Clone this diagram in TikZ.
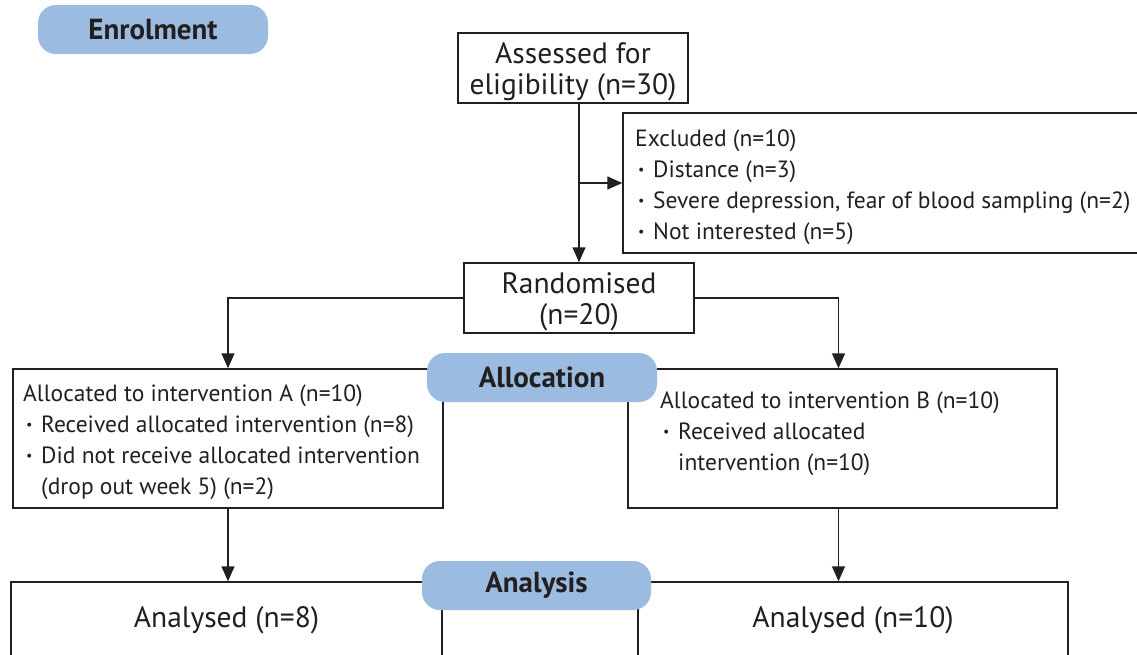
\documentclass[tikz,border=0pt]{standalone}
\usepackage{fontspec}
\setmainfont{PT Sans}
\usetikzlibrary{arrows.meta,calc}
\definecolor{pill}{RGB}{155,187,225}
\definecolor{ink}{RGB}{35,31,32}
\newcommand{\bul}{\makebox[18pt][l]{\hspace{3pt}\raisebox{.12em}{\scalebox{.6}{\textbullet}}}}
\begin{document}
\begin{tikzpicture}[x=1pt,y=-1pt,
  box/.style={draw=ink, line width=1.5pt, rectangle, inner sep=0pt, text=ink,
              font=\fontsize{29.5}{31}\selectfont, align=center},
  bigtxt/.style={inner sep=0pt, text=ink, font=\fontsize{29.5}{31}\selectfont, align=center},
  pillst/.style={fill=pill, rounded corners=18pt, inner sep=0pt, text=ink,
              font=\fontsize{29}{30}\selectfont\bfseries, minimum width=230pt, minimum height=49pt},
  small/.style={font=\fontsize{23.5}{30.7}\selectfont, align=left, inner sep=0pt,
              anchor=north west, text=ink},
  arr/.style={draw=ink, line width=1.5pt, -{Triangle[length=15pt,width=13pt]}}]
\clip (0,0) rectangle (1137,655);
\fill[white] (0,0) rectangle (1137,655);

% boxes
\node[box, minimum width=230pt, minimum height=70pt] (assess) at (573,68) {};
\node[box, minimum width=537pt, minimum height=140pt] (excl) at (891.5,183) {};
\node[box, minimum width=230pt, minimum height=70pt] (rand) at (579,298) {};
\node[box, minimum width=430pt, minimum height=139pt] (boxA) at (228,438.5) {};
\node[box, minimum width=429pt, minimum height=139pt] (boxB) at (842.5,438.5) {};
\node[box, minimum width=431pt, minimum height=76pt] (anL) at (226.5,620) {Analysed (n=8)};
\node[box, minimum width=430pt, minimum height=76pt] (anR) at (853,620) {Analysed (n=10)};

% texts
\node[bigtxt] (assessT) at ([yshift=-4pt]assess.center) {Assessed for\\eligibility (n=30)};
\node[bigtxt] (randT) at ([yshift=-4pt]rand.center) {Randomised\\(n=20)};
\node[small] (exclT) at (635,130) {Excluded (n=10)\\
\bul Distance (n=3)\\
\bul Severe depression, fear of blood sampling (n=2)\\
\bul Not interested (n=5)};
\node[small] (boxAT) at (23,385) {Allocated to intervention A (n=10)\\
\bul Received allocated intervention (n=8)\\
\bul Did not receive allocated intervention\\
\hspace*{18pt}(drop out week 5) (n=2)};
\node[small] (boxBT) at (660,392) {Allocated to intervention B (n=10)\\
\bul Received allocated\\
\hspace*{18pt}intervention (n=10)};

% connectors
\draw[arr] (rand.north |- assess.south) -- (rand.north);
\draw[arr] (rand.north |- excl.west) -- (excl.west);
\draw[arr] (rand.west) -| (boxA.north);
\draw[arr] (rand.east) -| ([xshift=-4pt]boxB.north);
\draw[arr] (boxA.south) -- (boxA.south |- anL.north);
\draw[arr] ([xshift=-4pt]boxB.south) -- ([xshift=-4pt]boxB.south |- anR.north);

% pills
\node[pillst] (enrol) at (153,29.5) {Enrolment};
\node[pillst] (alloc) at (542,377.5) {Allocation};
\node[pillst, minimum width=229pt] (anal) at (536.5,585.5) {Analysis};
\end{tikzpicture}
\end{document}
